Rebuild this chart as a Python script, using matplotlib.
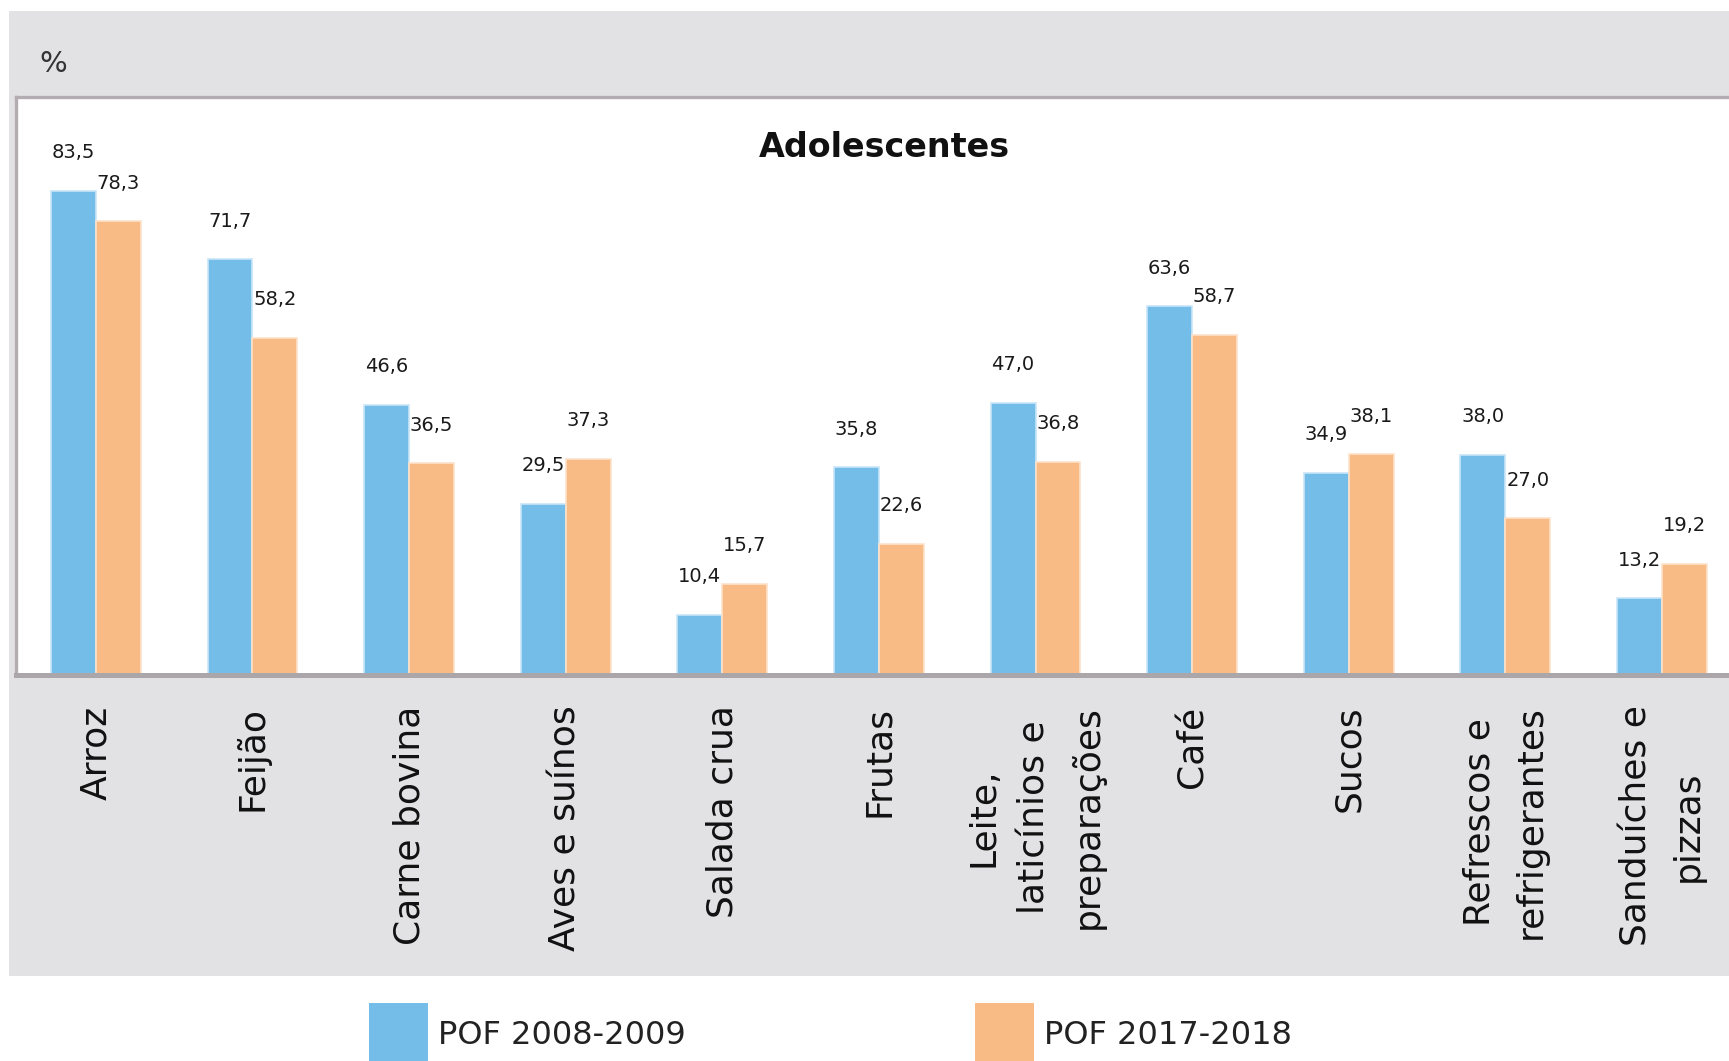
import matplotlib
matplotlib.use("Agg")
import matplotlib.pyplot as plt
from matplotlib.patches import Rectangle, Patch
from matplotlib import font_manager
import numpy as np

categories = ["Arroz", "Feijão", "Carne bovina", "Aves e suínos", "Salada crua",
              "Frutas", "Leite,\nlaticínios e\npreparações", "Café", "Sucos",
              "Refrescos e\nrefrigerantes", "Sanduíches e\npizzas"]
pof_2008 = [83.5, 71.7, 46.6, 29.5, 10.4, 35.8, 47.0, 63.6, 34.9, 38.0, 13.2]
pof_2017 = [78.3, 58.2, 36.5, 37.3, 15.7, 22.6, 36.8, 58.7, 38.1, 27.0, 19.2]
series_names = ["POF 2008-2009", "POF 2017-2018"]
title = "Adolescentes"

W, H = 1729, 1061
fig = plt.figure(figsize=(W / 100, H / 100), dpi=100)
fig.patch.set_facecolor("white")

# gray panel
fig.patches.append(Rectangle((9 / W, 1 - 976 / H), (W - 9) / W, (976 - 11) / H,
                             transform=fig.transFigure, facecolor="#E2E2E4",
                             edgecolor="none", zorder=-5))

ax = fig.add_axes([16 / W, 1 - 675 / H, (W - 16) / W, (675 - 97) / H])
ax.set_zorder(2)
ax.set_facecolor("white")

x = np.arange(len(categories))
w = 0.287
blue, orange = "#73BDE8", "#F9BB85"
b1 = ax.bar(x - w / 2, pof_2008, w, color=blue, edgecolor="#C8E5F7", linewidth=1.2)
b2 = ax.bar(x + w / 2, pof_2017, w, color=orange, edgecolor="#FDE1C9", linewidth=1.2)

for bars, vals in ((b1, pof_2008), (b2, pof_2017)):
    for rect, v in zip(bars, vals):
        ax.annotate(f"{v:.1f}".replace(".", ","),
                    (rect.get_x() + rect.get_width() / 2, v),
                    xytext=(0, 38), textcoords="offset pixels",
                    ha="center", va="center", fontsize=14, color="#1a1a1a")

ax.set_xlim(-0.510, 10.428)
ax.set_ylim(0, 99.7)
ax.set_yticks([])
ax.set_xticks(x)
ax.set_xticklabels(categories, rotation=90, fontsize=26, color="#111111",
                   ha="center", va="top")
for t in ax.get_xticklabels():
    t.set_multialignment("center")
    t.set_linespacing(1.65)
ax.tick_params(axis="x", length=0, pad=22)

for s in ("top", "left"):
    ax.spines[s].set_color("#B3ADB1")
    ax.spines[s].set_linewidth(2.4)
ax.spines["right"].set_visible(False)
ax.spines["bottom"].set_color("#ABA6A9")
ax.spines["bottom"].set_linewidth(3.6)

ax.text(0.507, 0.913, title, transform=ax.transAxes, ha="center", va="center",
        fontsize=24, fontweight="bold", color="#111111")

fig.text(53 / W, 1 - 64 / H, "%", ha="center", va="center", fontsize=21,
         color="#333333")

names = {f.name for f in font_manager.fontManager.ttflist}
if "Liberation Sans Narrow" in names:
    lfam, lsize = "Liberation Sans Narrow", 30
else:
    lfam, lsize = "DejaVu Sans", 23
px = lsize * 100 / 72

handles = [Patch(facecolor=blue, edgecolor="none"), Patch(facecolor=orange, edgecolor="none")]
fig.legend(handles, series_names, loc="upper left",
           bbox_to_anchor=(369 / W, 1 - 1003 / H), bbox_transform=fig.transFigure,
           ncol=2, frameon=False, borderpad=0, borderaxespad=0,
           handlelength=59 / px, handleheight=85 / px,
           handletextpad=0.3, columnspacing=290 / px,
           prop={"family": lfam, "size": lsize}, labelcolor="#222222")

fig.savefig("out.png", dpi=100)
